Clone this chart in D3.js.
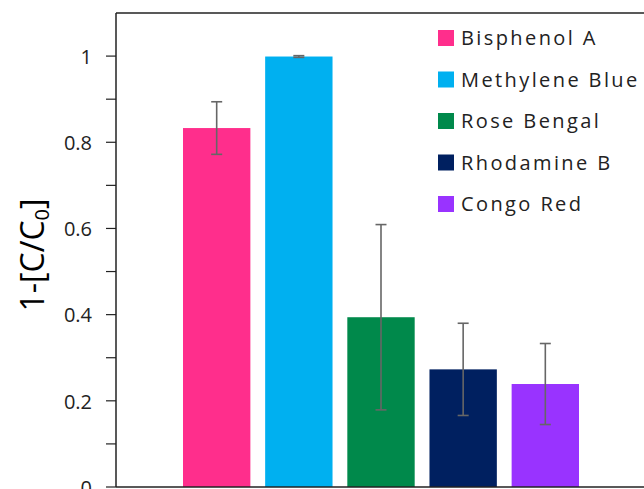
<!DOCTYPE html>
<html>
<head>
<meta charset="utf-8">
<script src="https://cdn.jsdelivr.net/npm/d3@7"></script>
<style>
  body { margin: 0; background: #fff; }
  svg { display: block; }
  .axis text { font-family: "Open Sans", sans-serif; font-size: 20px; fill: #222; }
  .legend text { font-family: "Open Sans", sans-serif; font-size: 20px; fill: #222; letter-spacing: 2.4px; }
</style>
</head>
<body>
<div id="chart"></div>
<script>
// data
const dyes = ["Bisphenol A", "Methylene Blue", "Rose Bengal", "Rhodamine B", "Congo Red"];
const removal = [0.833, 0.999, 0.394, 0.273, 0.239];
const errors = [0.061, 0.002, 0.215, 0.107, 0.094];
const colors = ["#ff2e8c", "#00b0f0", "#00894b", "#002060", "#9933ff"];
const yTicks = [0, 0.2, 0.4, 0.6, 0.8, 1];

const W = 644, H = 489;
const margin = {top: 13, right: 0, bottom: 2, left: 116};
const width = W - margin.left - margin.right;
const height = H - margin.top - margin.bottom;

const svg = d3.select("#chart").append("svg")
    .attr("width", W)
    .attr("height", H);

const g = svg.append("g")
    .attr("transform", `translate(${margin.left}, ${margin.top})`);

const y = d3.scaleLinear()
    .domain([0, 1.1])
    .range([height, 0]);

const x = d3.scaleBand()
    .domain(dyes)
    .range([67, 463])
    .paddingInner(0.18)
    .paddingOuter(0);

// minor ticks every 0.1
g.append("g")
    .selectAll("line")
    .data(d3.range(0, 11).map(d => d / 10))
    .enter()
    .append("line")
    .attr("x1", -10)
    .attr("x2", 0)
    .attr("y1", d => y(d))
    .attr("y2", d => y(d))
    .attr("stroke", "#222")
    .attr("stroke-width", 1.2);

const yAxis = d3.axisLeft(y)
    .tickValues(yTicks)
    .tickFormat(d => d3.format("")(d))
    .tickSize(0)
    .tickPadding(24);

g.append("g")
    .attr("class", "axis")
    .call(yAxis)
    .call(s => s.select(".domain").remove())
    .selectAll("text")
    .attr("dy", "0.36em");

// frame lines
g.append("line")
    .attr("x1", 0).attr("x2", 0)
    .attr("y1", 0).attr("y2", height)
    .attr("stroke", "#222").attr("stroke-width", 1.5);
g.append("line")
    .attr("x1", 0).attr("x2", width)
    .attr("y1", 0).attr("y2", 0)
    .attr("stroke", "#222").attr("stroke-width", 1.5);

// bars
g.selectAll("rect.bar")
    .data(dyes)
    .enter()
    .append("rect")
    .attr("class", "bar")
    .attr("x", d => x(d))
    .attr("width", x.bandwidth())
    .attr("y", (d, i) => y(removal[i]))
    .attr("height", (d, i) => height - y(removal[i]))
    .attr("fill", (d, i) => colors[i]);

// error bars
const err = g.append("g").attr("stroke", "#666").attr("stroke-width", 1.6);
dyes.forEach((d, i) => {
    const cx = x(d) + x.bandwidth() / 2;
    const top = y(removal[i] + errors[i]);
    const bot = y(removal[i] - errors[i]);
    err.append("line").attr("x1", cx).attr("x2", cx).attr("y1", top).attr("y2", bot);
    err.append("line").attr("x1", cx - 5.5).attr("x2", cx + 5.5).attr("y1", top).attr("y2", top);
    err.append("line").attr("x1", cx - 5.5).attr("x2", cx + 5.5).attr("y1", bot).attr("y2", bot);
});

// bottom axis line
g.append("line")
    .attr("x1", 0).attr("x2", width)
    .attr("y1", height).attr("y2", height)
    .attr("stroke", "#222").attr("stroke-width", 1.5);

// y axis title
const title = svg.append("text")
    .attr("transform", `translate(44, 255) rotate(-90)`)
    .attr("text-anchor", "middle")
    .attr("font-family", "'Open Sans', sans-serif")
    .attr("font-size", 32)
    .attr("fill", "#000");
title.append("tspan").text("1-[C/C");
title.append("tspan").attr("font-size", 20).attr("dy", 5).text("0");
title.append("tspan").attr("dy", -5).text("]");

// legend
const legend = svg.append("g")
    .attr("class", "legend")
    .attr("transform", "translate(438, 38)");

const rows = legend.selectAll("g")
    .data(dyes)
    .enter()
    .append("g")
    .attr("transform", (d, i) => `translate(0, ${i * 41.5})`);

rows.append("rect")
    .attr("x", 0)
    .attr("y", -8)
    .attr("width", 16)
    .attr("height", 16)
    .attr("fill", (d, i) => colors[i]);

rows.append("text")
    .attr("x", 23)
    .attr("dy", "0.36em")
    .text(d => d);
</script>
</body>
</html>
